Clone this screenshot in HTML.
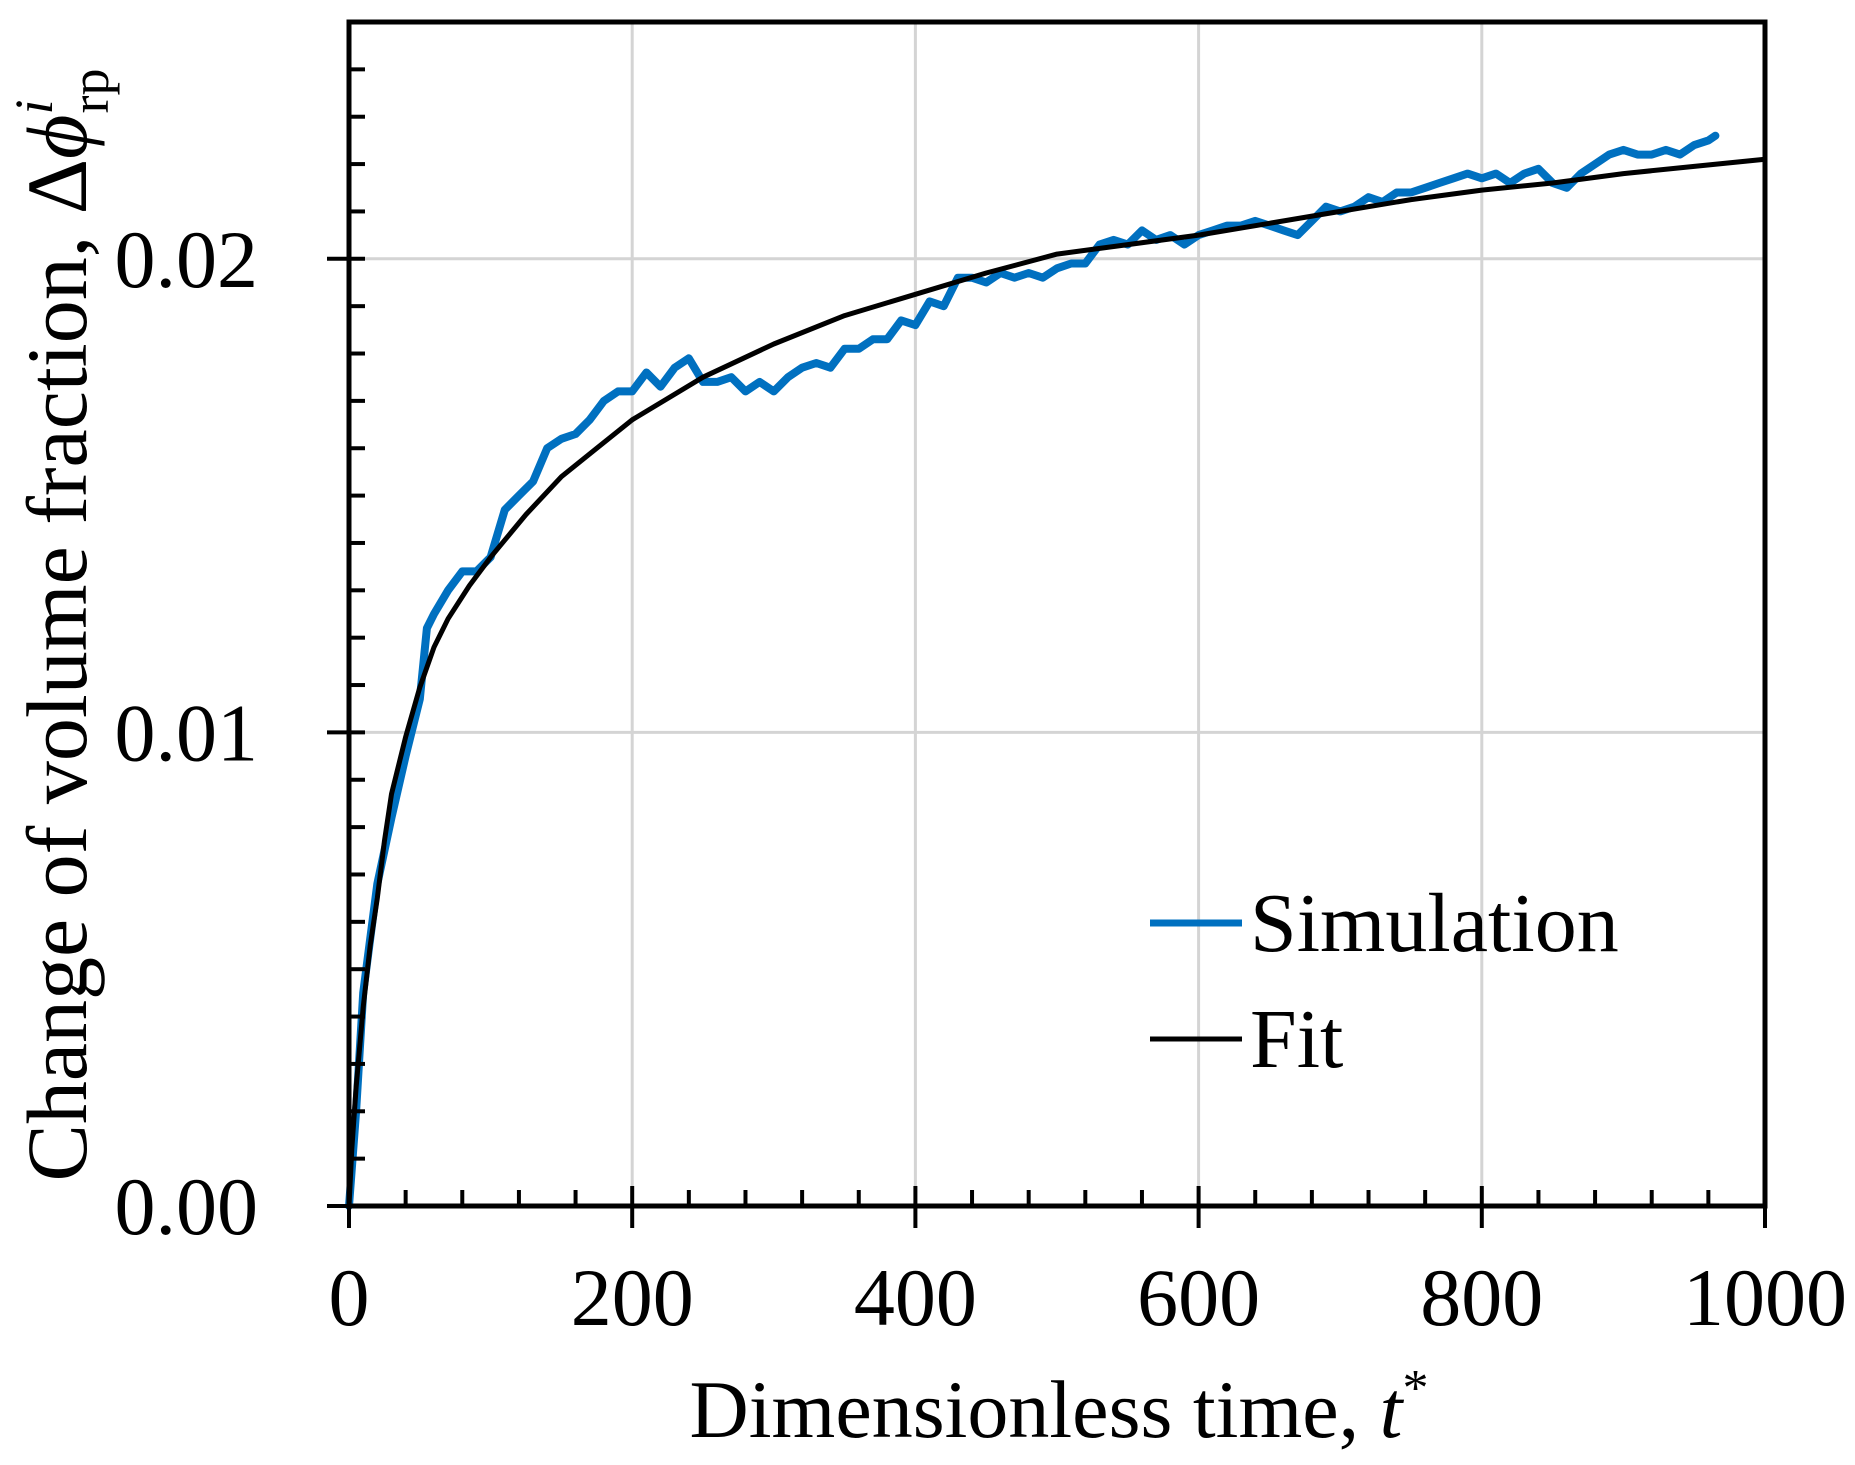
<!DOCTYPE html>
<html><head><meta charset="utf-8"><style>
html,body{margin:0;padding:0;background:#fff}
svg{display:block;font-family:"Liberation Serif",serif}
</style></head><body>
<svg id="chart" width="1855" height="1465" viewBox="0 0 1855 1465" xmlns="http://www.w3.org/2000/svg">
<g id="grid"></g>
<g id="series"></g>
<g id="axes"></g>
<text x="1059" y="1437" font-size="82" text-anchor="middle">Dimensionless time, <tspan font-style="italic">t</tspan><tspan font-size="52" dy="-32">*</tspan></text>
<text transform="translate(86,625) rotate(-90)" font-size="86" text-anchor="middle">Change of volume fraction, Δ<tspan font-style="italic">ϕ</tspan><tspan font-style="italic" font-size="54" dy="-34">i</tspan><tspan font-size="54" dx="-14" dy="56">rp</tspan></text>
<g>
<line x1="1150" y1="923" x2="1242" y2="923" stroke="#0070c0" stroke-width="7"/>
<text x="1250" y="951" font-size="84">Simulation</text>
<line x1="1150" y1="1039" x2="1242" y2="1039" stroke="#000" stroke-width="5"/>
<text x="1250" y="1067" font-size="84">Fit</text>
</g>
</svg>
<script>
const xTicks=[0,200,400,600,800,1000];
const yTicks=[0,0.01,0.02];
const yTickLabels=["0.00","0.01","0.02"];
const fitT=[0,2,5,10,15,20,25,30,40,50,60,70,85,100,125,150,175,200,250,300,350,400,450,500,550,600,650,700,750,800,850,900,950,1000];
const fitV=[0,0.0012,0.0025,0.0042,0.0055,0.0065,0.0077,0.0087,0.0099,0.01095,0.0118,0.0124,0.0131,0.0137,0.0146,0.0154,0.016,0.0166,0.0175,0.0182,0.0188,0.01925,0.0197,0.0201,0.0203,0.0205,0.02075,0.021,0.02125,0.02145,0.0216,0.0218,0.02195,0.0221];
const simT=[0,5,10,20,30,40,50,55,60,70,80,90,100,110,120,130,140,150,160,170,180,190,200,210,220,230,240,250,260,270,280,290,300,310,320,330,340,350,360,370,380,390,400,410,420,430,440,450,460,470,480,490,500,510,520,530,540,550,560,570,580,590,600,610,620,630,640,650,660,670,680,690,700,710,720,730,740,750,760,770,780,790,800,810,820,830,840,850,860,870,880,890,900,910,920,930,940,950,960,965];
const simV=[0,0.002,0.0045,0.0068,0.0082,0.0095,0.0107,0.0122,0.0125,0.013,0.0134,0.0134,0.0137,0.0147,0.015,0.0153,0.016,0.0162,0.0163,0.0166,0.017,0.0172,0.0172,0.0176,0.0173,0.0177,0.0179,0.0174,0.0174,0.0175,0.0172,0.0174,0.0172,0.0175,0.0177,0.0178,0.0177,0.0181,0.0181,0.0183,0.0183,0.0187,0.0186,0.0191,0.019,0.0196,0.0196,0.0195,0.0197,0.0196,0.0197,0.0196,0.0198,0.0199,0.0199,0.0203,0.0204,0.0203,0.0206,0.0204,0.0205,0.0203,0.0205,0.0206,0.0207,0.0207,0.0208,0.0207,0.0206,0.0205,0.0208,0.0211,0.021,0.0211,0.0213,0.0212,0.0214,0.0214,0.0215,0.0216,0.0217,0.0218,0.0217,0.0218,0.0216,0.0218,0.0219,0.0216,0.0215,0.0218,0.022,0.0222,0.0223,0.0222,0.0222,0.0223,0.0222,0.0224,0.0225,0.0226];
const L=349,R=1765,T=22,B=1206,XMAX=1000,YMAX=0.025;
const sx=v=>L+(R-L)*v/XMAX, sy=v=>B-(B-T)*v/YMAX;
const NS="http://www.w3.org/2000/svg";
function mk(tag,attrs,parent){const e=document.createElementNS(NS,tag);for(const k in attrs)e.setAttribute(k,attrs[k]);parent.appendChild(e);return e;}
const grid=document.getElementById('grid'),axes=document.getElementById('axes'),series=document.getElementById('series');
xTicks.forEach(v=>{if(v>0&&v<XMAX){const g=mk('line',{x1:sx(v),x2:sx(v),y1:T,y2:B,stroke:'#d4d4d4','stroke-width':3},grid);

}});
yTicks.forEach(v=>{if(v>0){const g=mk('line',{x1:L,x2:R,y1:sy(v),y2:sy(v),stroke:'#d4d4d4','stroke-width':3},grid);

}});
function path(ts,vs,color,w,name){const d=ts.map((t,i)=>(i?'L':'M')+sx(t).toFixed(1)+','+sy(vs[i]).toFixed(1)).join('');
const p=mk('path',{d:d,fill:'none',stroke:color,'stroke-width':w,'stroke-linejoin':'round','stroke-linecap':'round'},series);

}
path(simT,simV,'#0070c0',8,'simulation-line');
path(fitT,fitV,'#000',5,'fit-line');
const frame=mk('rect',{x:L,y:T,width:R-L,height:B-T,fill:'none',stroke:'#000','stroke-width':5},axes);


for(let v=0;v<=XMAX;v+=40){const major=v%200===0;
const t=mk('line',{x1:sx(v),x2:sx(v),y1:major?B-20:B-16,y2:major?B+22:B,stroke:'#000','stroke-width':4},axes);

}
for(let i=0;i<=25;i++){const v=i*0.001;const major=i%10===0;
const t=mk('line',{x1:major?L-22:L,x2:L+16,y1:sy(v),y2:sy(v),stroke:'#000','stroke-width':4},axes);

}
xTicks.forEach(v=>{const t=mk('text',{x:sx(v),y:1325,'font-size':82,'text-anchor':'middle'},axes);t.textContent=String(v);

});
yTicks.forEach((v,i)=>{const t=mk('text',{x:258,y:sy(v)+28,'font-size':82,'text-anchor':'end'},axes);t.textContent=yTickLabels[i];

});
</script>
</body></html>
